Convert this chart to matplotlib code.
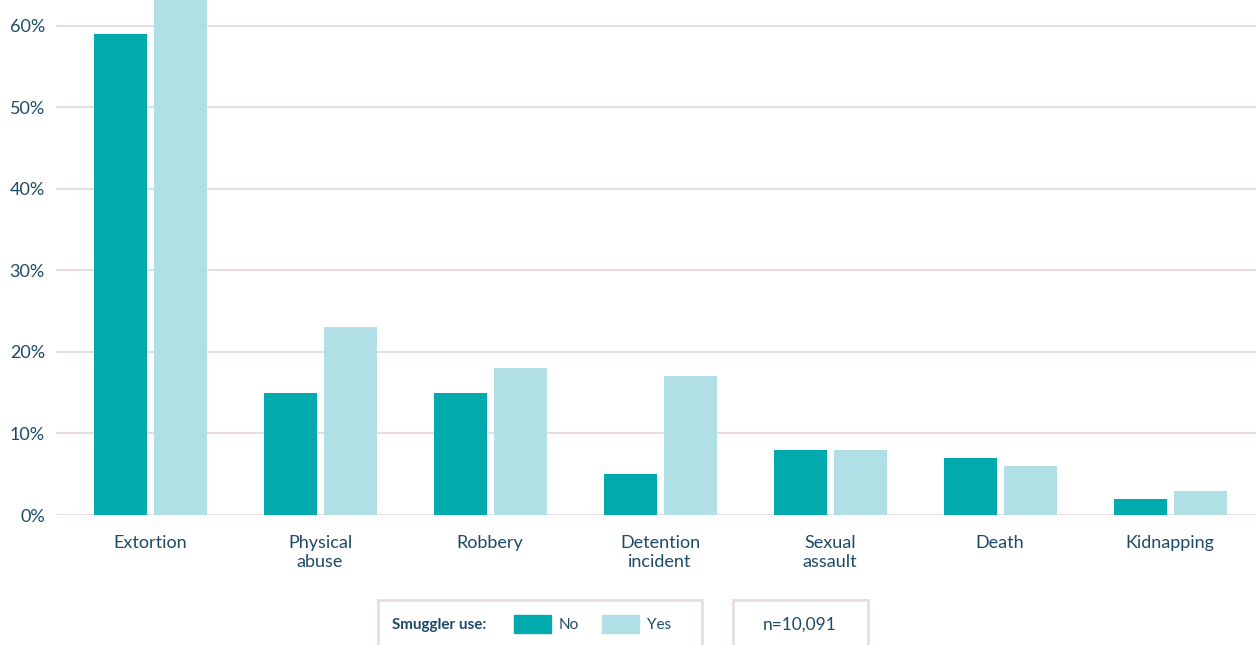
import matplotlib.pyplot as plt
import matplotlib.patches as mpatches
import numpy as np

# Share of respondents experiencing each incident, by smuggler use
categories = ["Extortion", "Physical\nabuse", "Robbery", "Detention\nincident",
              "Sexual\nassault", "Death", "Kidnapping"]
no_smuggler = [59, 15, 15, 5, 8, 7, 2]
yes_smuggler = [66, 23, 18, 17, 8, 6, 3]
yticks = [0, 10, 20, 30, 40, 50, 60]
n_label = "n=10,091"

c_no = "#00aaad"
c_yes = "#b0dfe5"
c_text = "#1d4a66"
c_grid = "#e6dde2"

plt.rcParams["font.family"] = ["Lato", "DejaVu Sans"]

fig = plt.figure(figsize=(12.56, 6.45), dpi=100)
ax = fig.add_axes([56 / 1256, 130 / 645, 1200 / 1256, 515 / 645])

x = np.arange(len(categories))
w = 0.312
off = 0.177
ax.bar(x - off + 0.005, no_smuggler, w, color=c_no, zorder=3)
ax.bar(x + off + 0.005, yes_smuggler, w, color=c_yes, zorder=3)

ax.set_xlim(-0.553, 6.506)
ax.set_ylim(0, 63.15)
ax.set_yticks(yticks)
ax.set_yticklabels([f"{t}%" for t in yticks])
ax.set_xticks(x)
ax.set_xticklabels(categories, linespacing=1.2)
ax.yaxis.grid(True, color=c_grid, linewidth=1.5, zorder=0)
for s in ax.spines.values():
    s.set_visible(False)
ax.tick_params(axis="both", length=0, colors=c_text, labelsize=13)
ax.tick_params(axis="y", pad=8)
ax.tick_params(axis="x", pad=14.5)

# legend box
def px(xp, yp):
    return xp / 1256, 1 - yp / 645

box_kw = dict(transform=fig.transFigure, facecolor="white", edgecolor=c_grid,
              linewidth=2, clip_on=False)
x0, y0 = px(378, 660)
fig.patches.append(mpatches.Rectangle((x0, y0), 324 / 1256, 60 / 645, **box_kw))
x0, y0 = px(733, 660)
fig.patches.append(mpatches.Rectangle((x0, y0), 135 / 1256, 60 / 645, **box_kw))

ty = 1 - 625 / 645
fig.text(392 / 1256, ty, "Smuggler use:", fontsize=11, fontweight="bold",
         color=c_text, va="center")
for sx, col, lab in [(514, c_no, "No"), (602, c_yes, "Yes")]:
    x0, y0 = px(sx, 633)
    fig.patches.append(mpatches.Rectangle((x0, y0), 37 / 1256, 18 / 645,
                                          transform=fig.transFigure, color=col))
    fig.text((sx + 45) / 1256, ty, lab, fontsize=11, color=c_text, va="center")
fig.text(800 / 1256, ty, n_label, fontsize=12.5, color=c_text, va="center", ha="center")

fig.savefig("out.png", dpi=100)
